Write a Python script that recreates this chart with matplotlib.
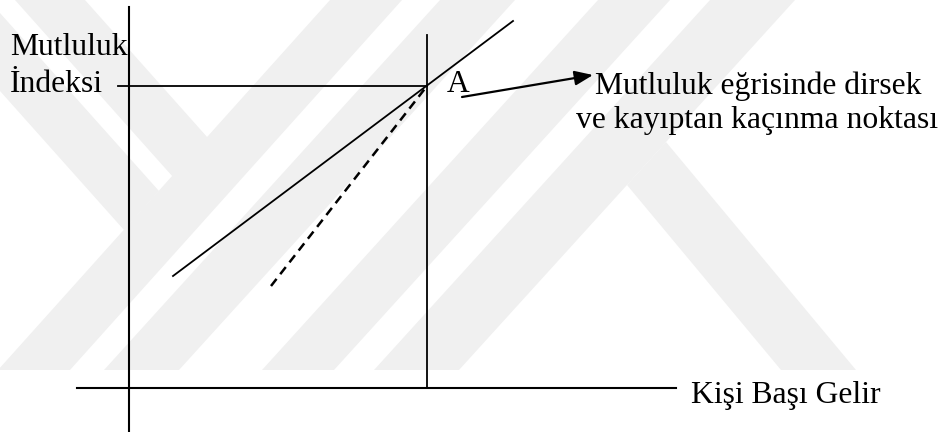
import matplotlib
matplotlib.use('Agg')
import matplotlib.pyplot as plt
from matplotlib.patches import Polygon

plt.rcParams['font.family'] = ['Liberation Serif', 'DejaVu Serif']
plt.rcParams['lines.scale_dashes'] = False

# diagram geometry in data units (origin = where the two axes cross)
axis_y_x = [0.0, 0.0]
axis_y_y = [-4.4, 38.1]
axis_x_x = [-5.2, 54.7]
axis_x_y = [0.0, 0.0]

point_a = (29.8, 30.2)
guide_v_top = 35.3
guide_h_left = -1.1

solid_x = [4.4, 38.4]
solid_y = [11.2, 36.7]
dashed_x = [14.2, 29.8]
dashed_y = [10.2, 30.2]

arrow_from = (33.3, 29.1)
arrow_to = (46.4, 31.3)

y_label = ['Mutluluk', 'İndeksi']
x_label = 'Kişi Başı Gelir'
note_lines = ['Mutluluk eğrisinde dirsek', 've kayıptan kaçınma noktası']

# faint background watermark, vertices in image pixels
watermark = [
    [(330, 0), (402, 0), (70, 370), (-2, 370)],
    [(440, 0), (515, 0), (179, 370), (104, 370)],
    [(598, 0), (670, 0), (334, 370), (262, 370)],
    [(710, 0), (795, 0), (459, 370), (374, 370)],
    [(15, 0), (85, 0), (208, 138), (173, 177)],
    [(0, 13), (159, 191), (124, 230), (0, 91)],
    [(627, 185), (666, 142), (856, 370), (781, 370)],
]


def px(p):
    return ((p[0] - 129) / 10.0, (388 - p[1]) / 10.0)


fig = plt.figure(figsize=(9.5, 4.32), dpi=100)
ax = fig.add_axes([0, 0, 1, 1])
ax.set_xlim(-12.9, 82.1)
ax.set_ylim(-4.4, 38.8)
ax.axis('off')

for poly in watermark:
    ax.add_patch(Polygon([px(p) for p in poly], closed=True,
                         facecolor='#f0f0f0', edgecolor='none', zorder=0))

lw = 1.3
ax.plot(axis_y_x, axis_y_y, color='black', lw=1.5, zorder=2)
ax.plot(axis_x_x, axis_x_y, color='black', lw=1.5, zorder=2)
ax.plot([point_a[0], point_a[0]], [0, guide_v_top], color='black', lw=lw, zorder=2)
ax.plot([guide_h_left, point_a[0]], [point_a[1], point_a[1]], color='black', lw=lw, zorder=2)
ax.plot(solid_x, solid_y, color='black', lw=lw, zorder=3)
ax.plot(dashed_x, dashed_y, color='black', lw=1.8, dashes=(6.5, 4.3), zorder=3)

ax.annotate('', xy=arrow_to, xytext=arrow_from,
            arrowprops=dict(arrowstyle='-|>,head_length=0.55,head_width=0.22',
                            mutation_scale=20, color='black', lw=1.6,
                            shrinkA=0, shrinkB=0), zorder=3)

fs = 22.8
ax.text(-11.9, 33.3, y_label[0], fontsize=fs, ha='left', va='baseline')
ax.text(-11.9, 29.6, y_label[1], fontsize=fs, ha='left', va='baseline')
ax.text(31.8, 29.6, 'A', fontsize=fs, ha='left', va='baseline')
ax.text(62.9, 29.4, note_lines[0], fontsize=fs, ha='center', va='baseline')
ax.text(62.8, 26.0, note_lines[1], fontsize=fs, ha='center', va='baseline')
ax.text(56.2, -1.5, x_label, fontsize=fs, ha='left', va='baseline')

fig.savefig('out.png', dpi=100, facecolor='white')
plt.close(fig)
